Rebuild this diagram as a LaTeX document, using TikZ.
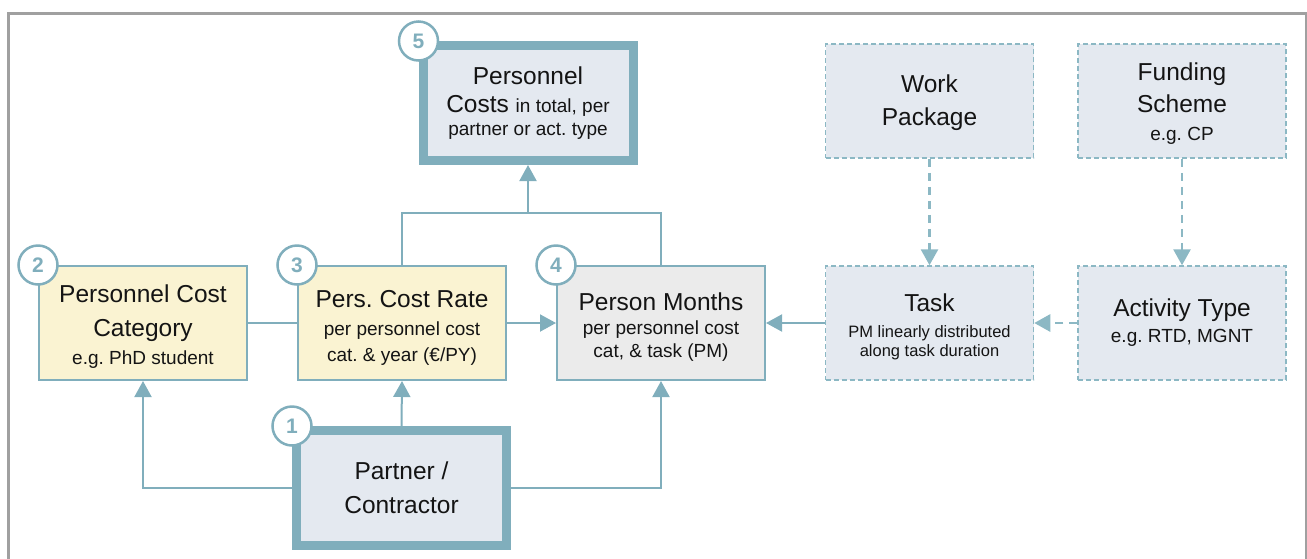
\documentclass[tikz,border=0pt]{standalone}
\usepackage{fontspec}
\setmainfont{Liberation Sans}
\usetikzlibrary{arrows.meta}
\frenchspacing
\definecolor{teal}{RGB}{128,174,188}
\definecolor{tealdash}{RGB}{140,184,196}
\definecolor{yellowfill}{RGB}{250,243,210}
\definecolor{bluefill}{RGB}{228,233,240}
\definecolor{grayfill}{RGB}{235,235,235}
\definecolor{framegray}{RGB}{160,160,160}
\newcommand{\bigtxt}{\fontsize{24.5}{30}\selectfont}
\newcommand{\smalltxt}{\fontsize{19}{30}\selectfont}
\newcommand{\tinytxt}{\fontsize{16.5}{30}\selectfont}
% taller first line, pushes a text block slightly down in its box
\newcommand{\toppad}[1]{\rule{0pt}{#1}}
\tikzset{
  box/.style={draw=teal, line width=2pt, minimum width=208pt, minimum height=114pt,
    align=center, inner sep=0pt, text=black!92, font=\bigtxt},
  yellowbox/.style={box, fill=yellowfill},
  graybox/.style={box, fill=grayfill},
  thickbox/.style={box, fill=bluefill, line width=9pt, minimum width=210pt, minimum height=115pt},
  dashbox/.style={box, fill=bluefill, draw=tealdash, line width=1.5pt, dash pattern=on 5pt off 3pt},
  numcircle/.style={circle, draw=teal, line width=2.5pt, fill=white, minimum size=39pt,
    inner sep=0pt, text=teal, font=\fontsize{21}{21}\selectfont\bfseries},
  link/.style={draw=teal, line width=2pt},
  arrowlink/.style={link, -{Triangle[length=16pt,width=17pt]}},
  dasharrow/.style={draw=tealdash, line width=2.8pt, dash pattern=on 8pt off 6pt,
    -{Triangle[length=16pt,width=17pt]}}
}
\begin{document}
\begin{tikzpicture}[x=1pt,y=-1pt]
  \useasboundingbox (0,0) rectangle (1307,558);
  % outer frame, open at the bottom edge
  \draw[framegray, line width=3pt] (8,13) rectangle (1306,575);

  % nodes
  \node[yellowbox] (pcc) at (143,323)
    {\toppad{24pt}Personnel Cost\\[4pt]Category\\[-2pt]{\smalltxt e.g. PhD student}};
  \node[yellowbox] (rate) at (402,323)
    {\toppad{26pt}Pers. Cost Rate\\[-2pt]{\smalltxt per personnel cost}\\[-4pt]{\smalltxt cat. \& year (€/PY)}};
  \node[graybox] (pm) at (661,323)
    {\toppad{26pt}Person Months\\[-6pt]{\smalltxt per personnel cost}\\[-7pt]{\smalltxt cat, \& task (PM)}};
  \node[dashbox] (task) at (929.5,323)
    {\toppad{26pt}Task\\[-4pt]{\tinytxt PM linearly distributed}\\[-11pt]{\tinytxt along task duration}};
  \node[dashbox] (act) at (1182,323)
    {Activity Type\\[-4pt]{\smalltxt e.g. RTD, MGNT}};
  \node[dashbox] (wp) at (929.5,101)
    {\toppad{21pt}Work\\[3pt]Package};
  \node[dashbox] (fund) at (1182,101)
    {\toppad{23pt}Funding\\[2pt]Scheme\\[-2pt]{\smalltxt e.g. CP}};
  \node[thickbox] (cost) at (528,103)
    {Personnel\\[-2pt]Costs {\smalltxt in total, per}\\[-7pt]{\smalltxt partner or act. type}};
  \node[thickbox] (partner) at (401.5,488)
    {Partner /\\[4pt]Contractor};

  % number badges on the top-left corners
  \node[numcircle] (n1) at (partner.north west) {1};
  \node[numcircle] (n2) at (pcc.north west) {2};
  \node[numcircle] (n3) at (rate.north west) {3};
  \node[numcircle] (n4) at (pm.north west) {4};
  \node[numcircle] (n5) at (cost.north west) {5};

  % solid connectors
  \coordinate (join) at (528,213);
  \draw[link] (pcc.east) -- (rate.west);
  \draw[arrowlink] (rate.east) -- (pm.west);
  \draw[arrowlink] (task.west) -- (pm.east);
  \draw[link] (rate.north) |- (join) -| (pm.north);
  \draw[arrowlink] (join) -- (cost.south);
  \draw[arrowlink] (partner.west) -| (pcc.south);
  \draw[arrowlink] (partner.north) -- (rate.south);
  \draw[arrowlink] (partner.east) -| (pm.south);

  % dashed connectors
  \draw[dasharrow] (wp.south) -- (task.north);
  \draw[dasharrow] (fund.south) -- (act.north);
  \draw[dasharrow] (act.west) -- (task.east);
\end{tikzpicture}
\end{document}
